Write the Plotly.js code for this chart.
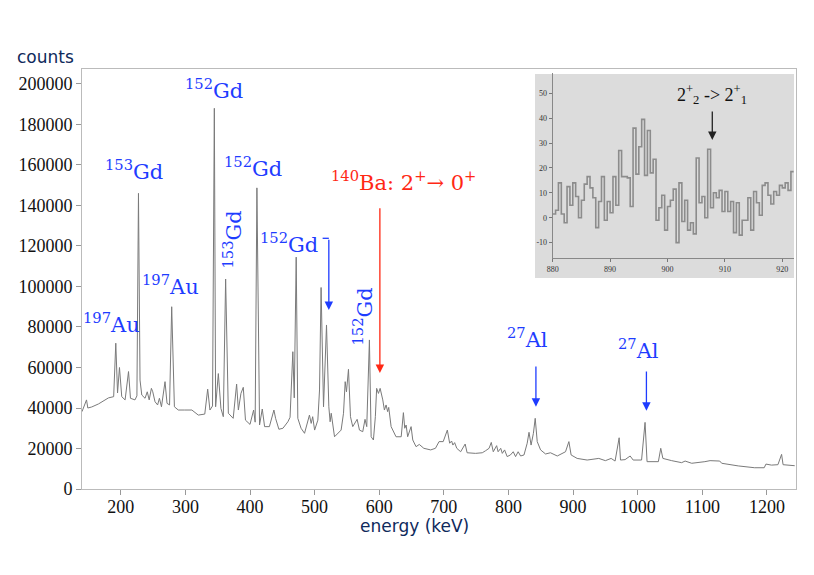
<!DOCTYPE html>
<html>
<head>
<meta charset="utf-8">
<script src="https://cdn.plot.ly/plotly-3.0.1.min.js"></script>
<style>html,body{margin:0;padding:0;background:#fff;}#chart{width:814px;height:575px;}</style>
</head>
<body>
<div id="chart"></div>
<script>
// Main spectrum (energy in keV, counts)
const energy = [140,147,149,155,165.5,181,189,192.3,195,198,201.5,206.7,212,215,222,225,227.4,229.8,232.5,237.6,241,244,247.4,249.5,253,257,259.8,263,268.5,271.6,275.5,278.8,283,289,299,310,320,330,334.5,338,342,344.8,346.8,351,355,358.7,362.3,366.5,374,379.3,382,386,389.6,393,400,405.6,408,410.7,414.8,419,422.6,430,437,439.6,444.7,451,458.6,462,466.3,468.5,471.5,474,479,484.4,492,494.7,497,500,505,507.6,510,513.8,518.4,522,524,525.7,530.8,536,541,544.7,547.3,549.3,552.4,555.5,559,565.8,569.4,574.5,578,580.7,584.8,587.5,591,594,596,598.8,601.4,605.5,608,610.6,613,614.7,618.4,626,634,637.4,639.5,641.6,644,649.3,651.9,657,662,669,679.6,687,692.6,699,705.4,709,712,714,716.7,720,726,733,736,749,759.5,764.6,770,773.4,776.5,781.7,784,788,790.5,794,798,803,807.4,811,815,818.8,824,829,831.8,835,838.6,841.4,844.5,849.7,857.4,865,875.5,888.3,893.5,897,906.3,921.8,939.8,950,958.9,965,971.3,973.4,980.5,988.3,993,1006,1011.4,1014.5,1032,1035.7,1039,1052.6,1068,1073.4,1083.6,1104,1112,1127,1130,1155.6,1181,1195.8,1198.5,1207,1217,1222.7,1225,1243];
const counts = [38200,44000,40000,40500,42000,45000,45600,72000,47400,60000,45600,44000,58000,44800,44000,46000,146000,53800,46400,44800,48000,44000,49700,48000,43100,41500,44800,40600,53000,42300,41500,90000,40600,39000,39000,39000,36500,37000,49300,39000,41000,188000,40600,57000,39800,35700,103700,37400,34900,51800,39000,47200,50200,34000,31900,39000,33000,148700,31600,39500,30800,30800,39000,34900,29500,30000,33200,35400,67800,45000,114500,34900,30000,27500,36500,32400,35700,29100,34000,48900,99500,40600,81000,40600,33200,37400,25800,27500,29100,37400,53000,48000,59100,35700,30800,34400,29100,28300,34400,30800,73600,25800,24200,35700,49700,47200,49700,44000,39000,41500,38200,40300,30800,25800,25800,37700,30000,31600,25800,30800,24200,20900,22000,20100,19300,20100,23400,23400,29100,22600,23700,21700,22900,20100,18400,22200,17900,17600,17900,18900,20100,23000,18400,21400,18400,20100,17600,19300,16000,16800,18400,16000,18400,16300,16800,22600,28000,21700,27500,34900,23400,19300,17300,17900,16300,18400,23400,16800,15100,14300,15100,14000,15100,13800,25300,14300,14500,16300,14300,14300,32900,13500,13500,20100,15100,14000,13000,13800,12700,13500,14000,13800,12700,11400,10500,10500,12300,11800,12000,17100,12000,11500];

// Inset histogram: bin left edges (keV) and counts
const insetEnergy = [880,880.5,881,881.5,882,882.5,883,883.5,884,884.5,885,885.5,886,886.5,887,887.5,888,888.5,889,889.5,890,890.5,891,891.5,892,892.5,893,893.5,894,894.5,895,895.5,896,896.5,897,897.5,898,898.5,899,899.5,900,900.5,901,901.5,902,902.5,903,903.5,904,904.5,905,905.5,906,906.5,907,907.5,908,908.5,909,909.5,910,910.5,911,911.5,912,912.5,913,913.5,914,914.5,915,915.5,916,916.5,917,917.5,918,918.5,919,919.5,920,920.5,921,921.5,922];
const insetCounts = [1.5,3,14,1.5,-2,12.5,5,14,8.5,0,7,13.5,16.5,12,8,-4,6.5,16.5,-1,6.5,2,16.5,5,27,16.5,16.5,16,4.5,36,17.5,28.5,39.5,17,35,18,23.5,-1,4,9,-5,4.5,7,11.5,-10,14,-1.5,7,-5,-2,-6.5,24,6,8.5,0,27.5,4,10,8,11,2.5,10.5,2.5,6.5,-6,6,-7,-1,-1,8,-5,10.5,6,1,13,14,9,5.5,10.5,9,13,12,14,11,18.5,18.5];

const xTicks = [200,300,400,500,600,700,800,900,1000,1100,1200];
const yTicks = [0,20000,40000,60000,80000,100000,120000,140000,160000,180000,200000];
const insetXTicks = [880,890,900,910,920];
const insetYTicks = [-10,0,10,20,30,40,50];

const BLUE = 'rgb(30,60,255)';
const RED = 'rgb(255,40,20)';
const SERIF = 'Times New Roman, Liberation Serif, serif';
const LABSERIF = 'DejaVu Serif';
const SANS = 'DejaVu Sans';
const LAB = {family: LABSERIF, size: 21, color: BLUE};

const traces = [
  {x: energy, y: counts, type: 'scatter', mode: 'lines',
   line: {color: '#7a7a7a', width: 1}, xaxis: 'x', yaxis: 'y', hoverinfo: 'skip'},
  {x: insetEnergy, y: insetCounts, type: 'scatter', mode: 'lines',
   line: {color: '#8c8c8c', width: 1.6, shape: 'hv'}, xaxis: 'x2', yaxis: 'y2', hoverinfo: 'skip'}
];

function lab(x, y, text, extra) {
  return Object.assign({x: x, y: y, xref: 'x', yref: 'y', text: text, showarrow: false,
    font: LAB, xanchor: 'center', yanchor: 'middle'}, extra || {});
}
function arrow(x, y0, y1, color, xr, yr) {
  return {x: x, y: y1, ax: x, ay: y0, xref: xr || 'x', yref: yr || 'y', axref: xr || 'x', ayref: yr || 'y',
    text: '', showarrow: true, arrowhead: 2, arrowsize: 1.3, arrowwidth: 1.3, arrowcolor: color, standoff: 0, startstandoff: 0};
}

const annotations = [
  lab(186, 82000, '<sup>197</sup>Au'),
  lab(220, 157500, '<sup>153</sup>Gd'),
  lab(277, 100700, '<sup>197</sup>Au'),
  lab(344.5, 197500, '<sup>152</sup>Gd'),
  lab(404, 159000, '<sup>152</sup>Gd'),
  lab(373, 123000, '<sup>153</sup>Gd', {textangle: -90}),
  lab(461, 121500, '<sup>152</sup>Gd'),
  lab(575.6, 85400, '<sup>152</sup>Gd', {textangle: -90}),
  lab(637, 152000, '<sup>140</sup>Ba: 2<sup>+</sup>→ 0<sup>+</sup>', {font: {family: LABSERIF, size: 21, color: RED}}),
  lab(829, 74600, '<sup>27</sup>Al'),
  lab(1000.6, 69100, '<sup>27</sup>Al'),
  arrow(522, 123800, 88400, BLUE),
  arrow(601, 139400, 57300, RED),
  arrow(842.5, 61200, 40600, BLUE),
  arrow(1013.5, 58800, 38700, BLUE),
  // inset label and arrow
  {x: 907.8, y: 49.3, xref: 'x2', yref: 'y2', text: '2<sup>+</sup><sub>2</sub> -> 2<sup>+</sup><sub>1</sub>',
   showarrow: false, font: {family: SERIF, size: 18, color: '#111'}, xanchor: 'center', yanchor: 'middle'},
  arrow(907.8, 43.3, 31.2, '#222', 'x2', 'y2'),
  // axis titles (pixel positions converted to paper below)
  {x: 15, y: 57, xref: 'paper', yref: 'paper', text: 'counts', showarrow: false,
   font: {family: SANS, size: 17, color: '#0f2a5c'}, xanchor: 'left', yanchor: 'middle'},
  {x: 414, y: 526, xref: 'paper', yref: 'paper', text: 'energy (keV)', showarrow: false,
   font: {family: SANS, size: 17, color: '#0f2a5c'}, xanchor: 'center', yanchor: 'middle'}
];
const L = 82, R = 18, T = 69, B = 86, W = 814, H = 575;
const pw = W - L - R, ph = H - T - B;
annotations.forEach(a => {
  if (a.xref === 'paper') { a.x = (a.x - L) / pw; a.y = (H - B - a.y) / ph; }
});

const px = v => (v - L) / pw;
const py = v => (H - B - v) / ph;

const TICKFONT = {family: SERIF, size: 18, color: '#111'};
const layout = {
  width: W, height: H,
  margin: {l: L, r: R, t: T, b: B},
  font: {family: SERIF, color: '#111'},
  paper_bgcolor: '#ffffff', plot_bgcolor: 'rgba(0,0,0,0)',
  showlegend: false,
  xaxis: {range: [140, 1245], tickvals: xTicks, ticktext: xTicks.map(String), ticks: 'outside', ticklen: 5,
    tickcolor: '#999', showline: true, linecolor: '#bbb', mirror: true, showgrid: false, zeroline: false,
    tickfont: TICKFONT, ticklabelstandoff: -4},
  yaxis: {range: [0, 207400], tickvals: yTicks, ticktext: yTicks.map(String), ticks: 'outside', ticklen: 5,
    tickcolor: '#999', showline: true, linecolor: '#bbb', mirror: true, showgrid: false, zeroline: false,
    tickfont: TICKFONT},
  xaxis2: {domain: [px(552.7), px(793.8)], range: [880, 922], anchor: 'y2', tickvals: insetXTicks,
    ticktext: insetXTicks.map(String), ticks: 'outside', ticklen: 3, tickcolor: '#777', showline: true,
    linecolor: '#888', showgrid: false, zeroline: false, tickfont: {family: SERIF, size: 8, color: '#333'}},
  yaxis2: {domain: [py(258.3), py(73.3)], range: [-16.3, 58], anchor: 'x2', tickvals: insetYTicks,
    ticktext: insetYTicks.map(String), ticks: 'outside', ticklen: 3, tickcolor: '#777', showline: true,
    linecolor: '#888', showgrid: false, zeroline: false, tickfont: {family: SERIF, size: 8, color: '#333'}},
  shapes: [
    {type: 'rect', xref: 'paper', yref: 'paper', x0: px(535), x1: px(794), y0: py(278), y1: py(74),
     fillcolor: '#dcdcdc', line: {width: 0}, layer: 'below'},
    {type: 'line', xref: 'x', yref: 'y', x0: 512.4, x1: 522, y0: 123800, y1: 123800,
     line: {color: BLUE, width: 1.3}}
  ],
  annotations: annotations
};

Plotly.newPlot('chart', traces, layout, {displayModeBar: false, staticPlot: true});
</script>
</body>
</html>
